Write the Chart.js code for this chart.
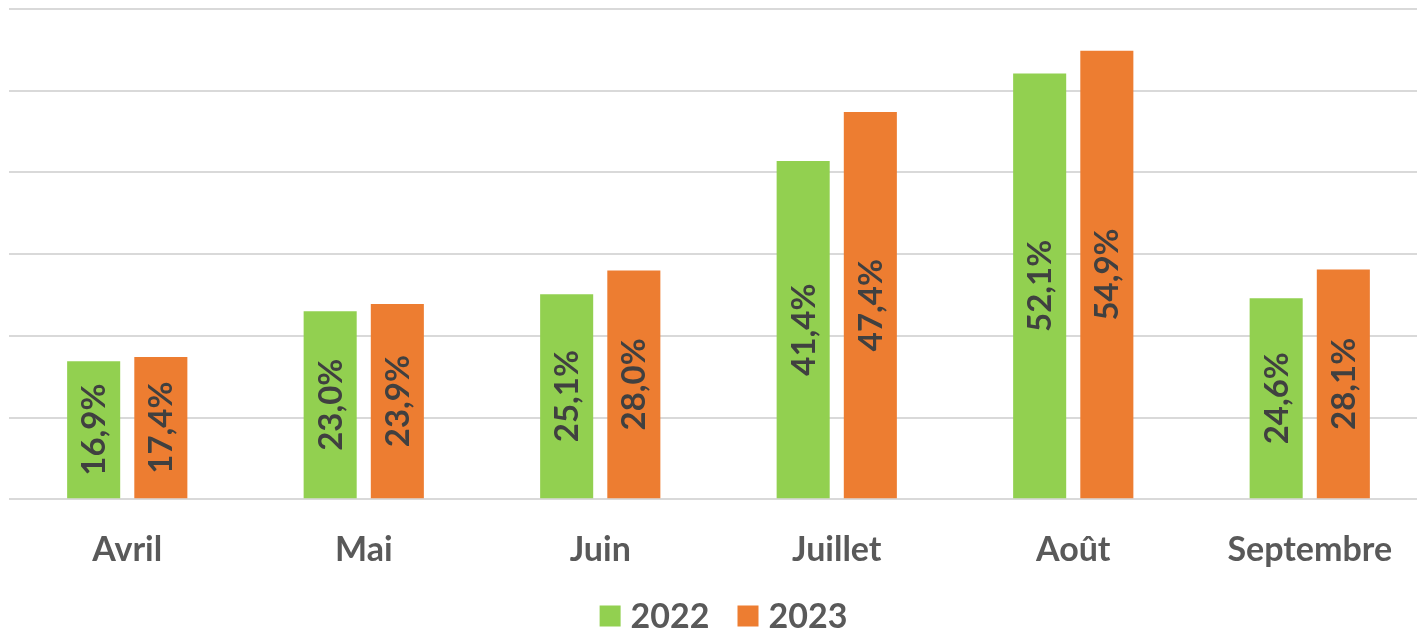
<!DOCTYPE html>
<html>
<head>
<meta charset="utf-8">
<script src="https://cdn.jsdelivr.net/npm/chart.js@4"></script>
<style>
  html, body { margin: 0; padding: 0; background: #fff; overflow: hidden; }
  #wrap { width: 1428px; height: 629px; position: relative; }
</style>
</head>
<body>
<div id="wrap"><canvas id="chart"></canvas></div>
<script>
const months = ['Avril', 'Mai', 'Juin', 'Juillet', 'Août', 'Septembre'];
const values2022 = [16.9, 23.0, 25.1, 41.4, 52.1, 24.6];
const values2023 = [17.4, 23.9, 28.0, 47.4, 54.9, 28.1];

const FONT = 'Lato, "Open Sans", sans-serif';

// labels drawn vertically in the middle of each bar
const barLabels = {
  id: 'barLabels',
  afterDatasetsDraw(chart) {
    const ctx = chart.ctx;
    ctx.save();
    ctx.font = 'bold 33px ' + FONT;
    ctx.fillStyle = '#404040';
    ctx.textAlign = 'center';
    ctx.textBaseline = 'middle';
    chart.data.datasets.forEach((ds, i) => {
      chart.getDatasetMeta(i).data.forEach((bar, j) => {
        const txt = ds.data[j].toFixed(1).replace('.', ',') + '%';
        const cy = (bar.y + bar.base) / 2;
        ctx.save();
        ctx.translate(bar.x, cy);
        ctx.rotate(-Math.PI / 2);
        ctx.fillText(txt, 0, 1);
        ctx.restore();
      });
    });
    ctx.restore();
  }
};

// legend drawn by hand so the spacing matches the original
const bottomLegend = {
  id: 'bottomLegend',
  afterDraw(chart) {
    const ctx = chart.ctx;
    const box = 21, gapText = 10, gapItem = 28;
    ctx.save();
    ctx.font = 'bold 34px ' + FONT;
    ctx.textBaseline = 'middle';
    ctx.textAlign = 'left';
    const items = chart.data.datasets.map(ds => ({
      text: ds.label, color: ds.backgroundColor, w: ctx.measureText(ds.label).width,
    }));
    const total = items.reduce((s, it) => s + box + gapText + it.w, 0) + gapItem * (items.length - 1);
    const cx = (chart.chartArea.left + chart.chartArea.right) / 2 + 5;
    const cy = 616;
    let x = cx - total / 2;
    items.forEach(it => {
      ctx.fillStyle = it.color;
      ctx.fillRect(x, cy - box / 2, box, box);
      x += box + gapText;
      ctx.fillStyle = '#595959';
      ctx.fillText(it.text, x, cy + 1);
      x += it.w + gapItem;
    });
    ctx.restore();
  }
};

new Chart(document.getElementById('chart'), {
  type: 'bar',
  data: {
    labels: months,
    datasets: [
      { label: '2022', data: values2022, backgroundColor: '#92D050' },
      { label: '2023', data: values2023, backgroundColor: '#ED7D31' },
    ],
  },
  options: {
    responsive: true,
    maintainAspectRatio: false,
    animation: false,
    categoryPercentage: 0.568,
    barPercentage: 0.79,
    layout: { padding: { left: 9, top: 9, right: 0, bottom: 37 } },
    plugins: {
      tooltip: { enabled: false },
      legend: { display: false },
    },
    scales: {
      x: {
        grid: { display: false },
        border: { display: false },
        ticks: {
          color: '#595959',
          padding: 22,
          font: { family: FONT, size: 34, weight: 'bold' },
        },
      },
      y: {
        min: 0,
        max: 60,
        ticks: { display: false, stepSize: 10 },
        border: { display: false },
        grid: { color: '#D9D9D9', lineWidth: 2, drawTicks: false },
      },
    },
  },
  plugins: [barLabels, bottomLegend],
});
</script>
</body>
</html>
